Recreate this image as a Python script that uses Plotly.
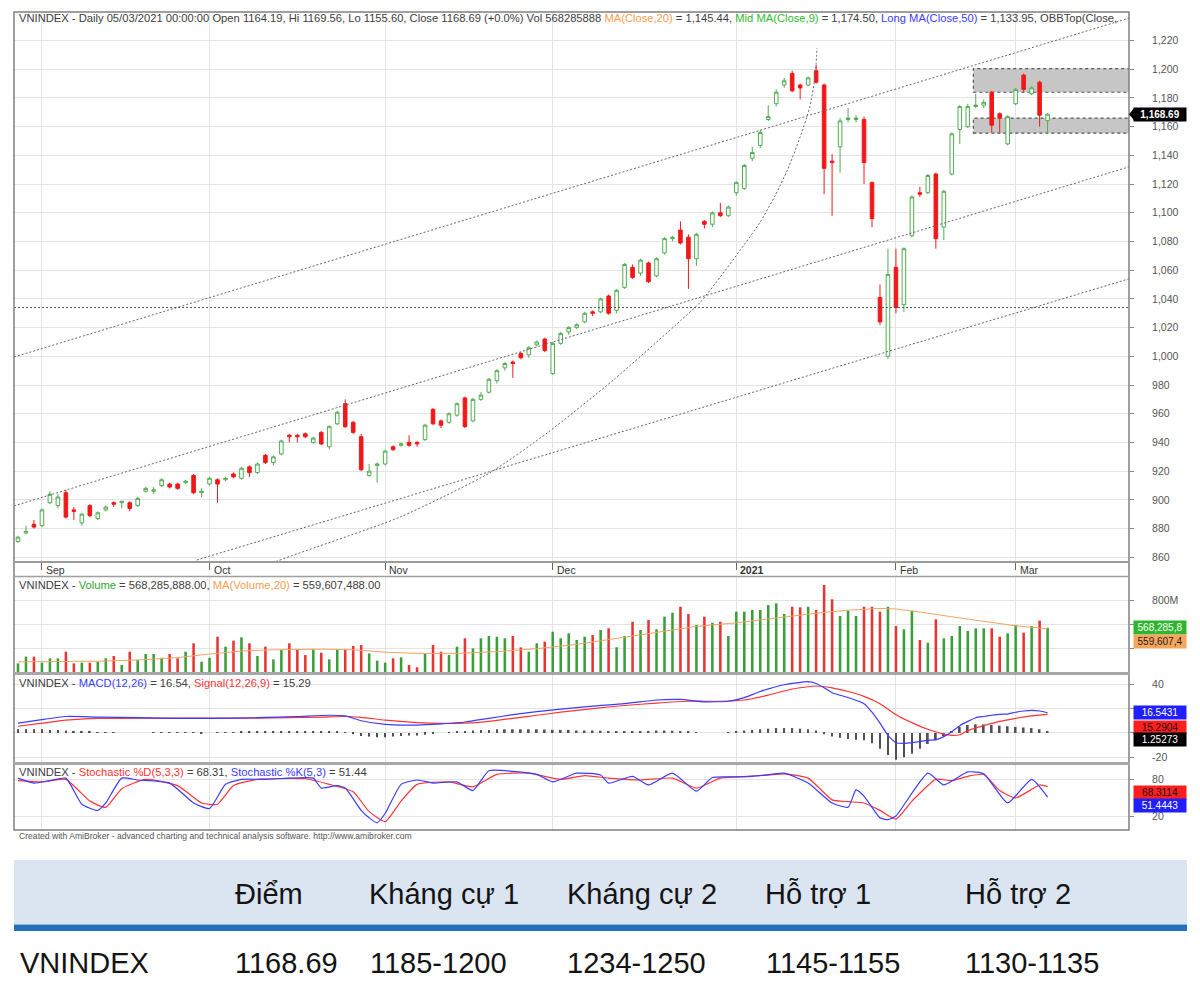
import plotly.graph_objects as go

# ---------------- data ----------------
bars = list(range(130))

opens = [871,877,883,882,898,896,905,893,884,896,
         887,893,898,898,898,896,906,906,910,911,
         911,912,917,905,911,914,914,918,915,923,
         919,931,926,932,945,945,946,940,947,937,
         953,967,954,944,917,924,925,937,938,940,
         940,942,963,955,954,959,971,955,970,975,
         983,992,996,1002,1001,1008,1012,988,1009,1017,
         1020,1024,1031,1031,1042,1032,1048,1062,1058,1065,
         1056,1072,1082,1088,1083,1068,1094,1092,1100,1098,
         1114,1117,1138,1147,1165,1176,1189,1197,1189,1189,
         1199,1189,1136,1146,1165,1165,1165,1121,1041,1000,
         1062,1036,1084,1114,1114,1127,1090,1127,1158,1160,
         1174,1175,1184,1169,1148,1176,1196,1183,1191,1164.19]

highs = [875,882,886,894,906,904,907,895,891,897,
         892,896,899,899,899,902,909,909,915,912,
         912,914,918,908,916,915,916,919,923,924,
         926,932,931,942,946,946,947,944,948,952,
         962,970,955,946,925,926,935,938,940,945,
         941,953,964,956,961,968,972,971,975,985,
         991,996,997,1003,1007,1011,1013,1010,1017,1021,
         1023,1031,1032,1041,1043,1047,1065,1064,1068,1066,
         1069,1083,1084,1094,1085,1086,1095,1101,1107,1105,
         1122,1134,1146,1158,1175,1186,1194,1199,1190,1195,
         1203,1190,1141,1166,1173,1168,1167,1122,1050,1075,
         1075,1076,1112,1118,1127,1128,1116,1156,1175,1176,
         1183,1179,1185,1170,1168,1187,1197,1188,1192,1169.56]

lows = [870,876,880,881,897,894,887,886,882,888,
        886,892,895,894,892,895,905,904,909,908,
        907,911,904,902,910,898,913,915,914,916,
        918,925,924,931,940,940,943,939,938,935,
        952,950,946,920,916,912,924,934,937,937,
        937,941,952,950,953,958,950,954,969,974,
        981,990,985,998,999,1007,1003,987,1008,1015,
        1019,1023,1028,1030,1029,1030,1047,1054,1056,1051,
        1055,1071,1080,1078,1047,1063,1089,1090,1097,1097,
        1112,1116,1136,1145,1164,1174,1187,1184,1179,1188,
        1190,1113,1098,1128,1163,1163,1120,1090,1022,998,
        1030,1031,1083,1111,1113,1075,1081,1126,1148,1159,
        1173,1173,1156,1156,1147,1175,1184,1182,1160,1155.60]

closes = [874,878,881,893,904,902,888,892,890,889,
          891,895,897,899,894,901,908,907,914,909,
          908,913,905,906,915,911,915,916,922,919,
          925,926,930,941,944,944,944,943,939,951,
          961,951,947,921,920,925,934,935,939,938,
          939,952,953,952,960,967,951,970,973,984,
          990,995,995,999,1006,1010,1004,1009,1016,1020,
          1022,1030,1030,1040,1030,1046,1064,1055,1067,1052,
          1068,1082,1083,1079,1068,1085,1092,1100,1098,1104,
          1121,1133,1142,1156,1167,1184,1192,1185,1187,1194,
          1191,1131,1135,1164,1166,1166,1135,1096,1024,1057,
          1034,1075,1111,1113,1126,1082,1115,1155,1174,1174,
          1175,1177,1161,1166,1167,1186,1186,1187,1168,1168.69]

volume_m = [272,328,328,278,314,314,369,272,278,278,
            286,314,333,258,369,300,350,350,319,350,
            314,369,439,286,319,494,411,461,489,439,
            333,411,305,383,439,383,341,389,361,305,
            389,389,417,425,355,294,278,314,322,258,
            239,355,425,369,342,411,481,397,481,500,
            494,481,500,405,369,439,453,536,481,522,
            467,494,508,550,564,406,500,619,550,633,
            556,661,694,744,683,592,661,611,619,500,
            703,703,717,717,758,772,683,744,739,744,
            717,925,806,667,711,667,744,744,703,744,
            583,556,711,467,444,639,481,500,583,542,
            564,564,564,494,522,592,528,583,628,568.29]

vol_ma_bars = [0,10,15,20,24,28,32,38,42,46,50,55,60,65,70,75,80,85,90,95,100,104,108,110,113,117,121,125,129]
vol_ma_m = [285,290,300,320,350,375,385,390,385,365,355,355,370,395,430,480,530,580,610,650,690,715,730,725,700,660,620,585,559.6]

macd_bars = [0,3,6,10,15,20,25,30,35,39,41,43,46,50,53,56,59,62,65,68,72,76,80,83,86,89,91,93,96,99,
             100,101,102,104,106,107,108,109,110,111,112,113,114,115,116,117,118,119,120,121,122,123,124,125,126,127,128,129]
macd_vals = [8,11,13.5,13,12.5,12,12,12.5,13.5,14.5,14,10,7,6.5,7.5,9,12,15,17.5,19.5,22,24,27,27.5,25.5,26,29,34,39.5,42,
             40.5,37,33,29,24,17,8,-2,-8,-8.5,-8,-7,-6,-5.5,-3,1,6,9.5,12.5,13.5,14.5,15.3,15.5,17,18,18.5,18,16.54]

signal_bars = [0,3,6,10,20,30,38,41,43,46,50,53,56,59,62,65,68,72,76,80,84,88,91,94,97,100,102,104,106,108,
               110,112,114,116,117,118,119,121,123,125,127,129]
signal_vals = [5.5,8,10.5,12,12.2,12.2,13,13.5,12.8,10.5,8.5,7.8,8,9.5,12,14.5,17,20,22.5,24.5,26,26,27,31,36,38.5,37,34,30,24,
               15,8.5,3,-1,-2,-1.5,2,6,9.5,12,14,15.29]

macd_hist = [3,3,3,3,2.5,2.5,2,1.5,1,0.8,
             0.5,0.3,0.2,0,0,0,0,0.2,0.3,0.3,
             0.2,0.3,0.1,-0.2,0,0.2,0.5,0.5,0.8,0.8,
             1,1,1.2,1.2,1,1,0.8,1,1.2,1.5,
             1,0.5,-1,-2.5,-3,-3.5,-3.5,-3,-2.5,-2,
             -2,-1.5,-0.5,0,0.5,1,1.5,2,2.5,2.5,
             3,3,3,3,3,3,2.8,2.5,2.5,2.5,
             2,2,2,1.8,1.5,1.5,1.5,1.5,1.5,1.5,
             2,2,1.8,1.5,1,0.5,0,0,0,0.5,
             1.5,2,2.5,3,3.5,4,4,4,3.5,3,
             2,-1,-3,-4,-5,-5.5,-6,-8.5,-13,-18,
             -22,-20,-17,-13,-9,-6,-2.5,1.5,5,6.5,
             7,7,6.5,6,5.5,5,4.5,4,3,1.25]

stoch_k_bars = [0,2,4,6,8,10,11,13,15,19,22,24,26,28,31,34,37,38,40,41,43,44,45,46,48,50,52,55,57,59,
                62,65,67,70,73,74,77,79,82,85,87,90,93,96,99,102,104,105,106,108,109,110,114,116,119,121,124,127,129]
stoch_k_vals = [82,74,78,82,40,30,42,82,79,74,42,33,72,80,80,82,82,66,70,66,30,18,10,25,72,79,74,76,62,94,
                93,88,76,90,87,74,85,71,90,61,83,84,86,90,74,42,35,63,53,18,15,21,90,71,92,89,42,80,51.44]
stoch_d_bars = [0,3,6,9,11,13,16,20,23,25,27,30,36,39,42,44,46,48,50,54,57,60,64,68,71,74,78,82,85,88,
                92,96,99,102,104,106,108,110,112,115,117,119,121,123,125,128,129]
stoch_d_vals = [78,76,80,45,35,65,80,70,42,40,70,80,81,72,60,28,12,45,72,76,68,88,90,80,86,82,79,82,66,82,
                85,89,82,47,44,42,30,16,45,80,78,85,88,62,50,71,68.31]

month_bars = [3, 24, 46, 67, 90, 110, 125]
month_labels = ["Sep", "Oct", "Nov", "Dec", "<b>2021</b>", "Feb", "Mar"]
price_ticks = list(range(860, 1221, 20))

# drawn objects (trend channel, arc, levels)
channel_top = ([-0.5, 139.2], [999.5, 1235.6])
channel_mid = ([-0.5, 139.2], [895.8, 1132.0])
channel_low = ([22.4, 139.2], [858.1, 1054.0])
arc_bars = [31.0, 32.2, 47.9, 59.1, 66.3, 74.6, 83.1, 85.5, 88.0, 90.5, 93.0, 94.9, 96.4, 98.0, 99.2, 99.9, 100.1]
arc_prices = [853.0, 856.7, 888.1, 918.8, 946.6, 983.5, 1025.3, 1037.8, 1055.3, 1074.1, 1093.6, 1112.4, 1129.8, 1152.8, 1173.7, 1196.0, 1214.8]
hline_price = 1034
resistance_zone = [1184, 1200.5]
support_zone = [1155.5, 1166]
zone_start_bar = 119.7

table_header = ["Điểm", "Kháng cự 1", "Kháng cự 2", "Hỗ trợ 1", "Hỗ trợ 2"]
table_row = ["VNINDEX", "1168.69", "1185-1200", "1234-1250", "1145-1155", "1130-1135"]

# ---------------- layout helpers ----------------
W, H = 1200, 988
FONT = "Liberation Sans, Arial, sans-serif"
GRID = "#e4e4e4"
PL, PR = 14, 1129
X_RANGE = [-0.5, 139.2]


def fx(px):
    return px / W


def fy(py):
    return 1 - py / H


inc = [c >= o for o, c in zip(opens, closes)]
vol_colors = ["#3a9f3a" if u else "#e53535" for u in inc]
BLUE = "#3c3cff"
RED = "#ff3434"
DOT = dict(color="#666666", width=1, dash="2px,2px")

fig = go.Figure()

for xs, ys in (channel_top, channel_mid, channel_low):
    fig.add_trace(go.Scatter(x=xs, y=ys, mode="lines", line=DOT, xaxis="x", yaxis="y", hoverinfo="skip"))
fig.add_trace(go.Scatter(x=arc_bars, y=arc_prices, mode="lines",
                         line=dict(color="#666666", width=1, dash="2px,2px", shape="spline", smoothing=0.6),
                         xaxis="x", yaxis="y", hoverinfo="skip"))

fig.add_trace(go.Candlestick(
    x=bars, open=opens, high=highs, low=lows, close=closes, xaxis="x", yaxis="y",
    increasing=dict(line=dict(color="#52ad52", width=1), fillcolor="white"),
    decreasing=dict(line=dict(color="#f21818", width=1), fillcolor="#f21818"),
    whiskerwidth=0, hoverinfo="skip"))

fig.add_trace(go.Bar(x=bars, y=volume_m, width=0.32, marker=dict(color=vol_colors, line=dict(width=0)),
                     xaxis="x2", yaxis="y2", hoverinfo="skip"))
fig.add_trace(go.Scatter(x=vol_ma_bars, y=vol_ma_m, mode="lines", line=dict(color="#f4a462", width=1),
                         xaxis="x2", yaxis="y2", hoverinfo="skip"))

fig.add_trace(go.Bar(x=bars, y=macd_hist, width=0.22, marker=dict(color="#505050", line=dict(width=0)),
                     xaxis="x3", yaxis="y3", hoverinfo="skip"))
SMOOTH = dict(shape="spline", smoothing=0.5)
fig.add_trace(go.Scatter(x=signal_bars, y=signal_vals, mode="lines", line=dict(color=RED, width=1.2, **SMOOTH),
                         xaxis="x3", yaxis="y3", hoverinfo="skip"))
fig.add_trace(go.Scatter(x=macd_bars, y=macd_vals, mode="lines", line=dict(color=BLUE, width=1.2, **SMOOTH),
                         xaxis="x3", yaxis="y3", hoverinfo="skip"))

fig.add_trace(go.Scatter(x=stoch_d_bars, y=stoch_d_vals, mode="lines", line=dict(color=RED, width=1.2, **SMOOTH),
                         xaxis="x4", yaxis="y4", hoverinfo="skip"))
fig.add_trace(go.Scatter(x=stoch_k_bars, y=stoch_k_vals, mode="lines", line=dict(color=BLUE, width=1.2, **SMOOTH),
                         xaxis="x4", yaxis="y4", hoverinfo="skip"))

common_x = dict(domain=[fx(PL), fx(PR)], range=X_RANGE, tickvals=month_bars, showticklabels=False,
                showgrid=True, gridcolor=GRID, gridwidth=1, zeroline=False, showline=False, fixedrange=True)
tickfont = dict(family=FONT, size=10.5, color="#555555")
common_y = dict(side="right", showgrid=True, gridcolor=GRID, zeroline=False, showline=False,
                ticks="outside", ticklen=4, tickcolor="#888888", tickfont=tickfont,
                ticklabelstandoff=16, fixedrange=True)

fig.update_layout(
    width=W, height=H, margin=dict(l=0, r=0, t=0, b=0),
    paper_bgcolor="white", plot_bgcolor="white", showlegend=False,
    barmode="overlay", boxgap=0.36,
    xaxis=dict(**common_x, anchor="y", ticks="outside", ticklen=7, tickcolor="#666666",
               rangeslider=dict(visible=False)),
    xaxis2=dict(**common_x, anchor="y2", matches="x"),
    xaxis3=dict(**common_x, anchor="y3", matches="x"),
    xaxis4=dict(**common_x, anchor="y4", matches="x"),
    yaxis=dict(**common_y, anchor="x", domain=[fy(562), fy(12)], range=[856.7, 1239.9],
               tickvals=price_ticks, ticktext=[f"{v:,}" for v in price_ticks]),
    # labels that sit under the value tags in the reference are left blank (gridlines kept)
    yaxis2=dict(**common_y, anchor="x2", domain=[fy(672), fy(577)], range=[200, 991.7],
                tickvals=[400, 600, 800], ticktext=["", "", "800M"]),
    yaxis3=dict(**common_y, anchor="x3", domain=[fy(762), fy(675)], range=[-23.8, 47.5],
                tickvals=[-20, 0, 20, 40], ticktext=["-20", "", "", "40"]),
    yaxis4=dict(**common_y, anchor="x4", domain=[fy(830), fy(765)], range=[-1.6, 103.2],
                tickvals=[20, 80], ticktext=["20", "80"]),
)

shapes = []
# support / resistance zones
for lo, hi in (resistance_zone, support_zone):
    shapes.append(dict(type="rect", xref="x", yref="y", x0=zone_start_bar, x1=X_RANGE[1] + 2, y0=lo, y1=hi,
                       fillcolor="#c6c6c6", line=dict(color="#555555", width=1.2, dash="dot"), layer="between"))
# horizontal dotted level
shapes.append(dict(type="line", xref="x domain", yref="y", x0=0, x1=1, y0=hline_price, y1=hline_price,
                   line=dict(color="#555555", width=1, dash="2px,2px")))
# frame and pane separators
shapes.append(dict(type="rect", xref="paper", yref="paper", x0=fx(PL), x1=fx(PR), y0=fy(830), y1=fy(12),
                   line=dict(color="#808080", width=1.5)))
for py, w, c in ((562, 2, "#9a9a9a"), (576.5, 1.5, "#a0a0a0"), (673.5, 3, "#a8a8a8"), (763.5, 3, "#a8a8a8")):
    shapes.append(dict(type="line", xref="paper", yref="paper", x0=fx(PL), x1=fx(PR), y0=fy(py), y1=fy(py),
                       line=dict(color=c, width=w)))
# table band and rule
shapes.append(dict(type="rect", xref="paper", yref="paper", x0=fx(14), x1=fx(1187), y0=fy(924), y1=fy(860),
                   fillcolor="#dbe5f1", line=dict(width=0)))
shapes.append(dict(type="rect", xref="paper", yref="paper", x0=fx(14), x1=fx(1187), y0=fy(931), y1=fy(924.5),
                   fillcolor="#2370bd", line=dict(width=0)))
# pointer of the last-price tag
c_last = closes[-1]
shapes.append(dict(type="path", xref="paper", yref="y",
                   path=f"M {fx(1129)},{c_last} L {fx(1134)},{c_last + 4.2} L {fx(1134)},{c_last - 4.2} Z",
                   fillcolor="black", line=dict(width=0)))
fig.update_layout(shapes=shapes)

ann = []
TXT = "#404040"
title = ("VNINDEX - Daily 05/03/2021 00:00:00 Open 1164.19, Hi 1169.56, Lo 1155.60, Close 1168.69 (+0.0%) "
         "Vol 568285888 <span style='color:#f5a050'>MA(Close,20)</span> = 1,145.44, "
         "<span style='color:#2ebd2e'>Mid MA(Close,9)</span> = 1,174.50, "
         "<span style='color:#3c3cff'>Long MA(Close,50)</span> = 1,133.95, OBBTop(Close,")
ann.append(dict(text=title, x=fx(17), y=fy(17.5)))
ann.append(dict(text="VNINDEX - <span style='color:#2ea82e'>Volume</span> = 568,285,888.00, "
                     "<span style='color:#f4a050'>MA(Volume,20)</span> = 559,607,488.00", x=fx(17), y=fy(585)))
ann.append(dict(text="VNINDEX - <span style='color:#3c3cff'>MACD(12,26)</span> = 16.54, "
                     "<span style='color:#ff3434'>Signal(12,26,9)</span> = 15.29", x=fx(17), y=fy(683)))
ann.append(dict(text="VNINDEX - <span style='color:#ff3434'>Stochastic %D(5,3,3)</span> = 68.31, "
                     "<span style='color:#3c3cff'>Stochastic %K(5,3)</span> = 51.44", x=fx(17), y=fy(772)))
for a in ann:
    a.update(xref="paper", yref="paper", xanchor="left", yanchor="middle", showarrow=False,
             font=dict(family=FONT, size=11.2, color=TXT))

ann.append(dict(text="Created with AmiBroker - advanced charting and technical analysis software. http://www.amibroker.com",
                xref="paper", yref="paper", x=fx(17), y=fy(836), xanchor="left", yanchor="middle",
                showarrow=False, font=dict(family=FONT, size=8.6, color="#555555")))

for b, lab in zip(month_bars, month_labels):
    ann.append(dict(text=lab, xref="x", yref="paper", x=b, y=fy(569.5), xanchor="left", yanchor="middle",
                    xshift=2, showarrow=False, font=dict(family=FONT, size=10.5, color="#333333")))

tags = [
    ("y", closes[-1], "<b>1,168.69</b>", "black", "white", 0),
    ("y2", volume_m[-1], "568,285,8", "#2db52d", "white", 0),
    ("y2", vol_ma_m[-1], "559,607,4", "#f6a55a", "#222222", -13),
    ("y3", macd_vals[-1], "16.5431", "#1f1fff", "white", 0),
    ("y3", signal_vals[-1], "15.2904", "#ff1f1f", "#111111", -13),
    ("y3", macd_hist[-1], "1.25273", "black", "white", -8.5),
    ("y4", stoch_d_vals[-1], "68.3114", "#ff1f1f", "#111111", -5.5),
    ("y4", stoch_k_vals[-1], "51.4443", "#1f1fff", "white", -8),
]
for yref, yv, txt, bg, fc, ys in tags:
    ann.append(dict(text=txt, xref="paper", yref=yref, x=fx(1133), y=yv, xanchor="left", yanchor="middle",
                    yshift=ys, showarrow=False, bgcolor=bg, width=50, height=11, borderpad=1, align="center",
                    font=dict(family=FONT, size=10, color=fc)))

TFONT = dict(family=FONT, size=29, color="#141414")
for px, t in zip([233, 367, 565, 763, 963], table_header):
    ann.append(dict(text=t, xref="paper", yref="paper", x=fx(px), y=fy(894), xanchor="left", yanchor="middle",
                    showarrow=False, font=TFONT))
for px, t in zip([18, 233, 368, 565, 764, 963], table_row):
    ann.append(dict(text=t, xref="paper", yref="paper", x=fx(px), y=fy(963), xanchor="left", yanchor="middle",
                    showarrow=False, font=TFONT))

fig.update_layout(annotations=ann)
fig.write_html("out.html", config={"displayModeBar": False})
